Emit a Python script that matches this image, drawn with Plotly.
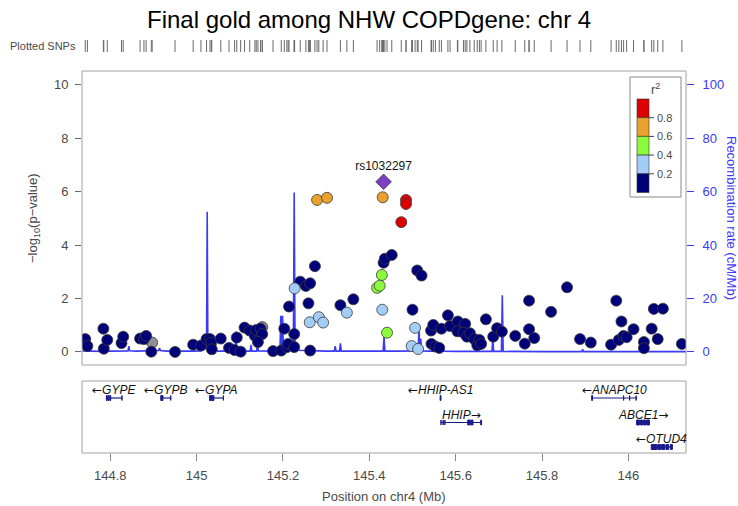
import plotly.graph_objects as go

# ---------------- data ----------------
# association results: position (Mb), -log10(p), LD r^2 with the index SNP (None = no LD info)
snp_pos = [144.742, 144.747, 144.784, 144.785, 144.793, 144.826, 144.830, 144.869, 144.878, 144.883,
           144.897, 144.895, 144.950, 144.992, 145.010, 145.023, 145.031, 145.034, 145.035, 145.056,
           145.075, 145.088, 145.093, 145.102, 145.111, 145.123, 145.135, 145.138, 145.152, 145.148,
           145.152, 145.142, 145.177, 145.196, 145.203, 145.209, 145.212, 145.214, 145.226, 145.226,
           145.227, 145.240, 145.253, 145.263, 145.274, 145.259, 145.262, 145.283, 145.293, 145.279,
           145.302, 145.263, 145.333, 145.348, 145.363, 145.431, 145.485, 145.485, 145.474, 145.433,
           145.436, 145.452, 145.429, 145.418, 145.424, 145.430, 145.441, 145.511, 145.521, 145.500,
           145.506, 145.498, 145.513, 145.543, 145.548, 145.544, 145.553, 145.562, 145.567, 145.582,
           145.587, 145.605, 145.604, 145.622, 145.618, 145.626, 145.633, 145.643, 145.650, 145.655,
           145.659, 145.670, 145.687, 145.696, 145.707, 145.738, 145.760, 145.770, 145.770, 145.782,
           145.821, 145.858, 145.888, 145.913, 145.960, 145.972, 145.978, 145.984, 145.989, 145.996,
           146.012, 146.036, 146.036, 146.054, 146.059, 146.068, 146.080, 146.124]
snp_logp = [0.48, 0.22, 0.87, 0.12, 0.45, 0.33, 0.57, 0.50, 0.48, 0.60,
            0.35, 0.01, 0.00, 0.27, 0.24, 0.48, 0.48, 0.35, 0.10, 0.50,
            0.15, 0.07, 0.54, 0.01, 0.91, 0.80, 0.60, 0.82, 0.93, 0.87,
            0.67, 0.37, 0.03, 0.05, 0.87, 0.18, 0.30, 1.70, 0.18, 0.67,
            2.38, 2.63, 2.47, 2.57, 3.21, 1.82, 1.11, 1.30, 1.10, 5.69,
            5.77, 0.05, 1.75, 1.47, 1.97, 5.79, 5.69, 5.54, 4.86, 3.34,
            3.49, 3.63, 2.88, 2.40, 2.48, 1.58, 0.72, 3.05, 2.86, 1.58,
            0.90, 0.22, 0.11, 0.80, 1.01, 0.30, 0.20, 0.15, 0.87, 1.37,
            0.97, 1.14, 0.77, 1.05, 0.72, 0.57, 0.70, 0.48, 0.25, 0.45,
            0.30, 1.22, 0.57, 0.89, 0.76, 0.60, 0.31, 0.85, 1.92, 0.52,
            1.50, 2.42, 0.48, 0.35, 0.27, 1.92, 0.45, 1.14, 0.60, 0.55,
            0.85, 0.37, 0.14, 0.87, 1.61, 0.48, 1.62, 0.30]
snp_r2 = [0.1, 0.1, 0.1, 0.1, 0.1, 0.1, 0.1, 0.1, 0.1, 0.1,
          None, 0.1, 0.1, 0.1, 0.1, 0.1, 0.1, 0.1, 0.1, 0.1,
          0.1, 0.1, 0.1, 0.1, 0.1, 0.1, 0.1, 0.1, None, 0.1,
          0.1, 0.1, 0.1, 0.1, 0.1, 0.1, 0.1, 0.1, 0.1, 0.1,
          0.3, 0.1, 0.1, 0.1, 0.1, 0.1, 0.3, 0.3, 0.3, 0.7,
          0.7, 0.1, 0.1, 0.3, 0.1, 0.7, 0.9, 0.9, 0.9, 0.1,
          0.1, 0.1, 0.5, 0.5, 0.5, 0.3, 0.5, 0.1, 0.1, 0.1,
          0.3, 0.3, 0.3, 0.1, 0.1, 0.1, 0.1, 0.1, 0.1, 0.1,
          0.1, 0.1, 0.1, 0.1, 0.1, 0.1, 0.1, 0.1, 0.1, 0.1,
          0.1, 0.1, 0.1, 0.1, 0.1, 0.1, 0.1, 0.1, 0.1, 0.1,
          0.1, 0.1, 0.1, 0.1, 0.1, 0.1, 0.1, 0.1, 0.1, 0.1,
          0.1, 0.1, 0.1, 0.1, 0.1, 0.1, 0.1, 0.1]

lead_name = "rs1032297"
lead_pos = 145.433
lead_logp = 6.37

# recombination rate (cM/Mb)
rec_pos = [144.735, 144.745, 144.760, 144.780, 144.800, 144.820, 144.841, 144.843, 144.845, 144.860,
           144.880, 144.900, 144.912, 144.914, 144.916, 144.930, 144.960, 144.990, 145.010, 145.020,
           145.023, 145.0245, 145.026, 145.030, 145.050, 145.070, 145.089, 145.091, 145.093, 145.110,
           145.124, 145.126, 145.128, 145.139, 145.141, 145.143, 145.160, 145.180, 145.193, 145.195,
           145.197, 145.199, 145.201, 145.205, 145.215, 145.224, 145.226, 145.228, 145.235, 145.260,
           145.300, 145.319, 145.321, 145.323, 145.331, 145.333, 145.335, 145.360, 145.400, 145.432,
           145.434, 145.436, 145.460, 145.500, 145.513, 145.515, 145.517, 145.519, 145.521, 145.540,
           145.567, 145.569, 145.571, 145.600, 145.640, 145.684, 145.686, 145.688, 145.706, 145.708,
           145.710, 145.750, 145.800, 145.892, 145.894, 145.896, 145.950, 146.000, 146.050, 146.070,
           146.100, 146.1335]
rec_rate = [0.4, 0.3, 0.4, 0.2, 0.3, 0.3, 0.4, 2.2, 0.4, 0.3,
            0.3, 0.4, 0.5, 1.5, 0.5, 0.3, 0.2, 0.3, 0.4, 1.2,
            1.5, 52.5, 1.5, 0.8, 0.3, 0.3, 0.4, 7.6, 0.4, 0.3,
            0.3, 2.6, 0.3, 0.3, 3.4, 0.4, 0.3, 0.3, 0.5, 13.5,
            1.0, 13.5, 0.8, 0.6, 0.7, 0.8, 59.7, 0.8, 0.6, 0.4,
            0.3, 0.3, 2.2, 0.3, 0.3, 3.2, 0.3, 0.3, 0.3, 0.3,
            5.7, 0.3, 0.3, 0.3, 0.4, 8.9, 0.4, 5.0, 0.4, 0.3,
            0.3, 2.2, 0.3, 0.2, 0.2, 0.2, 4.7, 0.2, 0.2, 21.2,
            0.2, 0.1, 0.1, 0.1, 1.0, 0.1, 0.1, 0.2, 0.2, 0.3,
            0.2, 0.1]

# genes: name, start, end, strand, display row, exon blocks
gene_names = ["GYPE", "GYPB", "GYPA", "HHIP-AS1", "ANAPC10", "HHIP", "ABCE1", "OTUD4"]
gene_start = [144.791, 144.917, 145.030, 145.564, 145.915, 145.566, 146.019, 146.053]
gene_end = [144.828, 144.941, 145.063, 145.566, 146.019, 145.660, 146.049, 146.102]
gene_strand = ["-", "-", "-", "-", "-", "+", "+", "-"]
gene_row = [1, 1, 1, 1, 1, 2, 2, 3]
gene_exons = [
    [(144.791, 144.793), (144.795, 144.797), (144.799, 144.801), (144.827, 144.828)],
    [(144.917, 144.922), (144.940, 144.941)],
    [(145.030, 145.035), (145.036, 145.040), (145.062, 145.063)],
    [(145.564, 145.566)],
    [(145.915, 145.917), (145.989, 145.990), (146.003, 146.004), (146.018, 146.019)],
    [(145.566, 145.567), (145.571, 145.572), (145.575, 145.576), (145.628, 145.634),
     (145.636, 145.640), (145.658, 145.660)],
    [(146.019, 146.026), (146.028, 146.033), (146.035, 146.040), (146.042, 146.049)],
    [(146.053, 146.066), (146.068, 146.075), (146.077, 146.084), (146.087, 146.093), (146.097, 146.102)],
]

x_ticks = [144.8, 145.0, 145.2, 145.4, 145.6, 145.8, 146.0]
x_tick_text = ["144.8", "145", "145.2", "145.4", "145.6", "145.8", "146"]
x_range = [144.7345, 146.1335]

ld_breaks = [0.2, 0.4, 0.6, 0.8]
ld_colors = ["#000078", "#a3cdf7", "#8cfb3e", "#eaa12e", "#dc0000"]
gray_color = "#8f8f8f"
lead_color = "#7d3fc3"
rec_color = "#3a3af8"
text_gray = "#4a4a4a"

W, H = 738, 506
FONT = "Liberation Sans, Arial, Helvetica, sans-serif"
ARROW_FONT = "DejaVu Sans"


def px_x(p):
    return p / W


def px_y(p):
    return 1 - p / H


def ld_color(r2):
    if r2 is None:
        return gray_color
    idx = sum(1 for b in ld_breaks if r2 > b)
    return ld_colors[idx]


def paper_text(x, y, text, size, color, **kw):
    fig.add_annotation(x=px_x(x), y=px_y(y), xref="paper", yref="paper", text=text,
                       showarrow=False, yanchor=kw.pop("yanchor", "middle"),
                       xanchor=kw.pop("xanchor", "center"),
                       font=dict(family=FONT, size=size, color=color), **kw)


# panel geometry (pixels)
MAIN_L, MAIN_R, MAIN_T, MAIN_B = 82, 686, 71, 365
GENE_T, GENE_B = 381, 453
RUG_T, RUG_B = 40, 52

fig = go.Figure()

# recombination rate (base subplot, drawn under the points)
fig.add_trace(go.Scatter(x=rec_pos, y=rec_rate, mode="lines", xaxis="x", yaxis="y",
                         line=dict(color=rec_color, width=1.6), hoverinfo="skip", showlegend=False))

# association points, lowest LD drawn first
order = sorted(range(len(snp_pos)), key=lambda i: -1 if snp_r2[i] is None else snp_r2[i])
fig.add_trace(go.Scatter(
    x=[snp_pos[i] for i in order], y=[snp_logp[i] for i in order], mode="markers",
    xaxis="x", yaxis="y2",
    marker=dict(size=11, color=[ld_color(snp_r2[i]) for i in order],
                line=dict(color="#3a3a3a", width=0.8)),
    showlegend=False, hoverinfo="x+y"))

# index SNP
fig.add_trace(go.Scatter(x=[lead_pos], y=[lead_logp], mode="markers+text", xaxis="x", yaxis="y2",
                         marker=dict(symbol="diamond", size=12, color=lead_color,
                                     line=dict(color="#3a3a3a", width=0.8)),
                         text=[lead_name], textposition="top center",
                         textfont=dict(family=FONT, size=12, color="#111111"),
                         showlegend=False))

# rug of plotted SNP positions
fig.add_trace(go.Scatter(x=snp_pos + [lead_pos], y=[0.5] * (len(snp_pos) + 1), mode="markers",
                         xaxis="x", yaxis="y4",
                         marker=dict(symbol="line-ns-open", size=11, color="#6a6a6a",
                                     line=dict(color="#6a6a6a", width=1)),
                         showlegend=False, hoverinfo="x"))

# genes
gene_navy = "#1a1a8c"
for name, s, e, strand, row, exons in zip(gene_names, gene_start, gene_end, gene_strand,
                                          gene_row, gene_exons):
    fig.add_trace(go.Scatter(x=[s, e], y=[row, row], mode="lines", xaxis="x2", yaxis="y3",
                             line=dict(color=gene_navy, width=1.2), showlegend=False,
                             hoverinfo="skip"))
    ex_x, ex_y = [], []
    for a, b in exons:
        ex_x += [a, a, b, b, a, None]
        ex_y += [row - 0.1, row + 0.1, row + 0.1, row - 0.1, row - 0.1, None]
    fig.add_trace(go.Scatter(x=ex_x, y=ex_y, mode="lines", fill="toself", fillcolor=gene_navy,
                             xaxis="x2", yaxis="y3", line=dict(color=gene_navy, width=1),
                             showlegend=False, hoverinfo="skip"))
    if strand == "-":
        label = f'<span style="font-family:{ARROW_FONT}">\u2190</span><i>{name}</i>'
    else:
        label = f'<i>{name}</i><span style="font-family:{ARROW_FONT}">\u2192</span>'
    fig.add_annotation(x=(s + e) / 2, y=row - 0.32, xref="x2", yref="y3", text=label,
                       showarrow=False, yanchor="middle",
                       font=dict(family=FONT, size=12, color="#111111"))

# frames around the panels
for t, b in [(MAIN_T, MAIN_B), (GENE_T, GENE_B)]:
    fig.add_shape(type="rect", xref="paper", yref="paper",
                  x0=px_x(MAIN_L), x1=px_x(MAIN_R), y0=px_y(b), y1=px_y(t),
                  line=dict(color="#a0a0a0", width=1), layer="above")

# r^2 colour key
KEY_L, KEY_R, KEY_T, KEY_B = 630, 681, 77, 197
fig.add_shape(type="rect", xref="paper", yref="paper", x0=px_x(KEY_L), x1=px_x(KEY_R),
              y0=px_y(KEY_B), y1=px_y(KEY_T), line=dict(color="#8a8a8a", width=1),
              fillcolor="white", layer="above")
bar_l, bar_r, bar_top, seg = 637, 649, 99, 18.7
for k, col in enumerate(reversed(ld_colors)):
    y0 = bar_top + k * seg
    fig.add_shape(type="rect", xref="paper", yref="paper", x0=px_x(bar_l), x1=px_x(bar_r),
                  y0=px_y(y0 + seg), y1=px_y(y0), fillcolor=col,
                  line=dict(color="#333333", width=0.6), layer="above")
for k, br in enumerate(reversed(ld_breaks)):
    yy = bar_top + (k + 1) * seg
    fig.add_shape(type="line", xref="paper", yref="paper", x0=px_x(bar_r), x1=px_x(bar_r + 5),
                  y0=px_y(yy), y1=px_y(yy), line=dict(color="#444444", width=1), layer="above")
    paper_text(bar_r + 6, yy, f"{br:.1f}", 11, text_gray, xanchor="left")
paper_text(655, 89, "r<sup>2</sup>", 13, text_gray)

# titles and labels
paper_text(369, 19, "Final gold among NHW COPDgene: chr 4", 24, "black")
paper_text(8, 46, "Plotted SNPs", 11, text_gray, xanchor="left")
paper_text(34, 218, "\u2212log<sub>10</sub>(p\u2212value)", 13, text_gray, textangle=-90)
paper_text(731, 218, "Recombination rate (cM/Mb)", 13, rec_color, textangle=90)
paper_text(384, 496, "Position on chr4 (Mb)", 13, text_gray)

main_dom_x = [px_x(MAIN_L), px_x(MAIN_R)]
main_dom_y = [px_y(MAIN_B), px_y(MAIN_T)]

fig.update_layout(
    width=W, height=H, margin=dict(l=0, r=0, t=0, b=0),
    paper_bgcolor="white", plot_bgcolor="white",
    font=dict(family=FONT, color=text_gray),
    xaxis=dict(domain=main_dom_x, range=x_range, anchor="y", showgrid=False, zeroline=False,
               showticklabels=False, ticks="", showline=False),
    yaxis=dict(domain=main_dom_y, range=[-4.9, 105.2], side="right", anchor="x",
               tickvals=[0, 20, 40, 60, 80, 100], ticks="outside", ticklen=7, tickcolor=rec_color,
               tickfont=dict(family=FONT, size=13, color=rec_color), showgrid=False,
               zeroline=False, showline=False, ticklabelstandoff=6),
    yaxis2=dict(range=[-0.49, 10.52], overlaying="y", side="left", anchor="x",
                tickvals=[0, 2, 4, 6, 8, 10], ticks="outside", ticklen=6, tickcolor="#666666",
                tickfont=dict(family=FONT, size=13, color=text_gray), showgrid=False,
                zeroline=False, showline=False, ticklabelstandoff=4),
    xaxis2=dict(domain=main_dom_x, range=x_range, anchor="y3", matches="x",
                tickvals=x_ticks, ticktext=x_tick_text, ticks="outside", ticklen=7,
                tickcolor="#888888", tickfont=dict(family=FONT, size=13, color=text_gray),
                showgrid=False, zeroline=False, showline=False, ticklabelstandoff=3),
    yaxis3=dict(domain=[px_y(GENE_B), px_y(GENE_T)], range=[3.245, 0.306], anchor="x2",
                visible=False, showgrid=False, zeroline=False),
    yaxis4=dict(domain=[px_y(RUG_B), px_y(RUG_T)], range=[0, 1], anchor="x",
                visible=False, showgrid=False, zeroline=False),
)

fig.write_html("out.html")
